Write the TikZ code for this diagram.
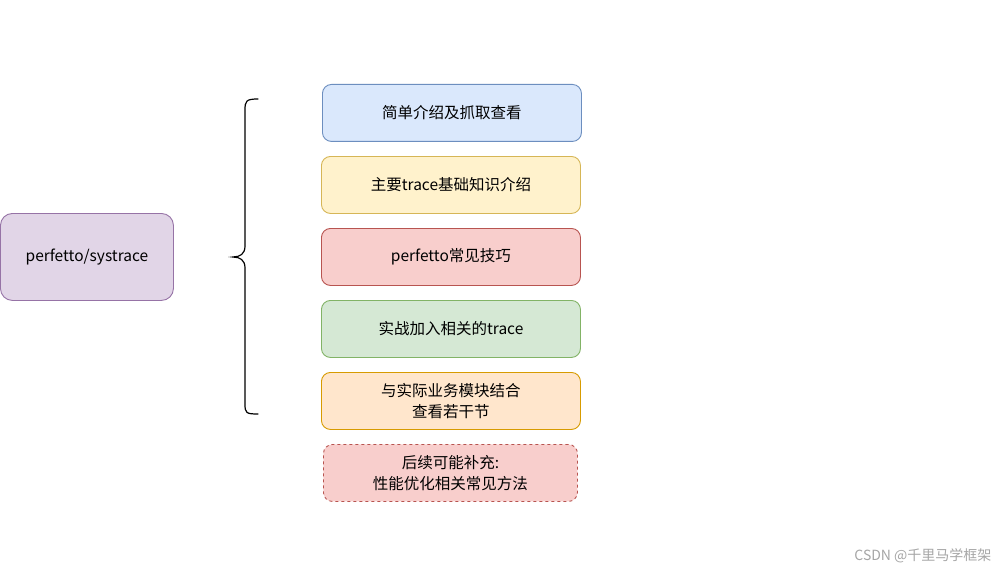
\documentclass[tikz,border=0pt]{standalone}
\usepackage{fontspec}
\setmainfont{Noto Sans CJK SC}
\begin{document}
\begin{tikzpicture}[x=1pt,y=-1pt,
  box/.style={draw,rounded corners=9pt,line width=0.9pt,minimum width=259pt,minimum height=57pt,align=center,font=\fontsize{15.5}{21}\selectfont,anchor=north west},
  blu/.style={fill={rgb,255:red,218;green,232;blue,252},draw={rgb,255:red,108;green,142;blue,191}},
  yel/.style={fill={rgb,255:red,255;green,242;blue,204},draw={rgb,255:red,214;green,182;blue,86}},
  rd/.style={fill={rgb,255:red,248;green,206;blue,204},draw={rgb,255:red,184;green,84;blue,80}},
  grn/.style={fill={rgb,255:red,213;green,232;blue,212},draw={rgb,255:red,130;green,179;blue,102}},
  org/.style={fill={rgb,255:red,255;green,230;blue,204},draw={rgb,255:red,215;green,155;blue,0}}]
\useasboundingbox[fill=white] (0,0) rectangle (1001,575);
\node[box,fill={rgb,255:red,225;green,213;blue,231},draw={rgb,255:red,150;green,115;blue,166},minimum width=173pt,minimum height=87pt,rounded corners=12pt] (root) at (0,213) {perfetto/systrace};
\node[box,blu] (b1) at (322,84) {简单介绍及抓取查看};
\node[box,yel] (b2) at (321,156) {主要trace基础知识介绍};
\node[box,rd] (b3) at (321,228) {perfetto常见技巧};
\node[box,grn] (b4) at (321,300) {实战加入相关的trace};
\node[box,org] (b5) at (321,372) {与实际业务模块结合\\查看若干节};
\node[box,rd,dashed,minimum width=254pt] (b6) at (323,444) {后续可能补充:\\性能优化相关常见方法};
\coordinate (bt) at (258,99);
\coordinate (bb) at (258,414);
\draw[line width=1.2pt,line cap=round] (bt) .. controls (246,99) and (245,101) .. (245,110) -- (245,246) .. controls (245,254) and (240,257) .. (233,257) .. controls (240,257) and (245,260) .. (245,268) -- (245,404) .. controls (245,413) and (246,414) .. (bb);
\node[text=gray!70,font=\fontsize{14}{16}\selectfont,anchor=east] (wm) at (995,556) {CSDN @千里马学框架};
\end{tikzpicture}
\end{document}
